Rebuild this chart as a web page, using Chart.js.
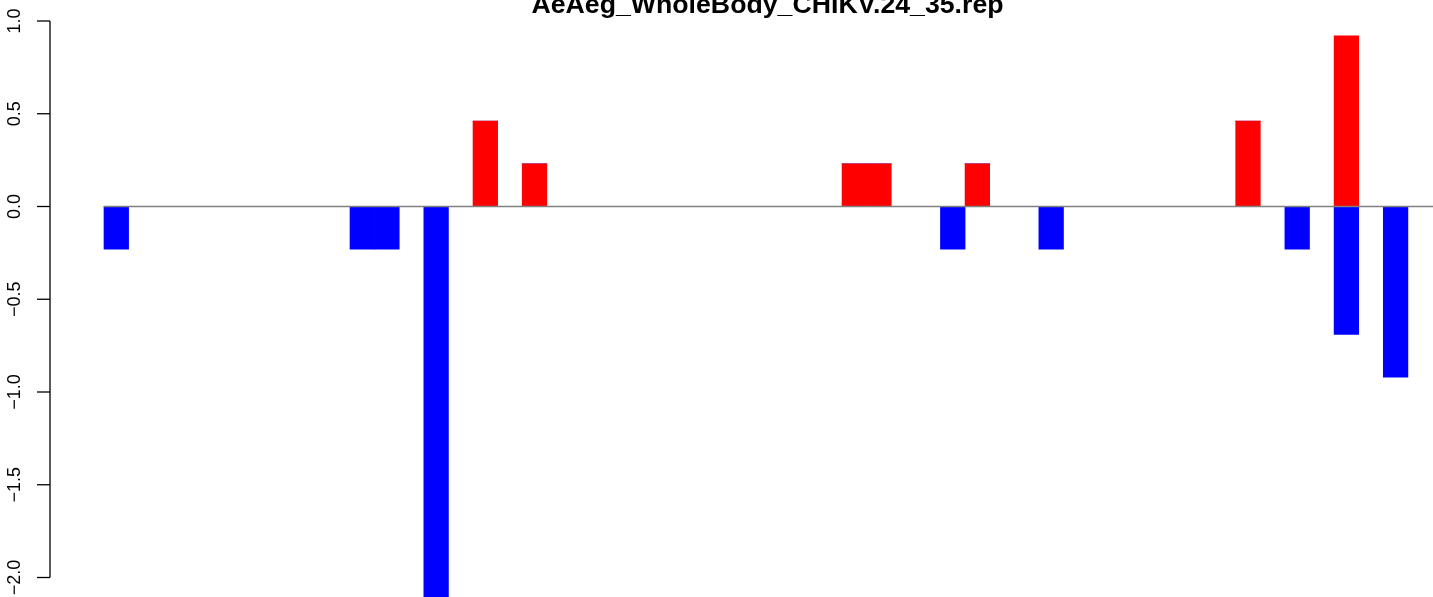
<!DOCTYPE html>
<html><head><meta charset="utf-8">
<script src="https://cdn.jsdelivr.net/npm/chart.js@4/dist/chart.umd.min.js"></script>
<style>html,body{margin:0;padding:0;background:#fff;overflow:hidden}canvas{display:block}</style>
</head><body>
<canvas id="c" width="1433" height="597"></canvas>
<script>
const chartTitle = "AeAeg_WholeBody_CHIKV.24_35.rep";
const categories = [
  0,1,2,3,4,5,6,7,8,9,
  10,11,12,13,14,15,16,17,18,19,
  20,21,22,23,24,25,26,27,28,29,
  30,31,32,33,34,35,36,37,38,39,
  40,41,42,43,44,45,46,47,48,49,
  50,51,52,53
];
const upValues = [
  0,0,0,0,0,0,0,0,0,0,
  0,0,0,0,0,0.46,0,0.23,0,0,
  0,0,0,0,0,0,0,0,0,0,
  0.23,0.23,0,0,0,0.23,0,0,0,0,
  0,0,0,0,0,0,0.46,0,0,0,
  0.92,0,0,0
];
const downValues = [
  -0.23,0,0,0,0,0,0,0,0,0,
  -0.23,-0.23,0,-2.3,0,0,0,0,0,0,
  0,0,0,0,0,0,0,0,0,0,
  0,0,0,0,-0.23,0,0,0,-0.23,0,
  0,0,0,0,0,0,0,0,-0.23,0,
  -0.69,0,-0.92,0
];
const yTickValues = [-2.0,-1.5,-1.0,-0.5,0.0,0.5,1.0];
const yTickLabels = ["\u22122.0","\u22121.5","\u22121.0","\u22120.5","0.0","0.5","1.0"];

const FONT = '"Liberation Sans", Arial, Helvetica, sans-serif';

const axisPlugin = {
  id: 'rAxis',
  afterDatasetsDraw(chart) {
    const ctx = chart.ctx;
    const y = chart.scales.y, x = chart.scales.x;
    const ca = chart.chartArea;
    ctx.save();
    const y0 = y.getPixelForValue(0);
    ctx.strokeStyle = '#808080';
    ctx.lineWidth = 1.3;
    ctx.beginPath();
    ctx.moveTo(x.getPixelForValue(categories[0] - 0.5), y0);
    ctx.lineTo(ca.right, y0);
    ctx.stroke();
    const ax = ca.left;
    ctx.strokeStyle = '#000';
    ctx.lineWidth = 1.3;
    ctx.beginPath();
    ctx.moveTo(ax, y.getPixelForValue(yTickValues[yTickValues.length-1]));
    ctx.lineTo(ax, y.getPixelForValue(yTickValues[0]));
    ctx.stroke();
    ctx.fillStyle = '#000';
    ctx.font = '18px ' + FONT;
    ctx.textAlign = 'center';
    ctx.textBaseline = 'alphabetic';
    yTickValues.forEach((v, i) => {
      const py = y.getPixelForValue(v);
      ctx.beginPath();
      ctx.moveTo(ax - 13, py);
      ctx.lineTo(ax, py);
      ctx.stroke();
      ctx.save();
      ctx.translate(19.5, py);
      ctx.rotate(-Math.PI / 2);
      ctx.fillText(yTickLabels[i], 0, 0);
      ctx.restore();
    });
    ctx.font = 'bold 26.7px ' + FONT;
    ctx.textAlign = 'center';
    ctx.fillText(chartTitle, 767.5, 12.5);
    ctx.restore();
  }
};

new Chart(document.getElementById('c'), {
  type: 'bar',
  data: {
    datasets: [
      { label: 'up', data: categories.map((c, i) => ({x: c, y: upValues[i]})), backgroundColor: '#ff0000', borderWidth: 0 },
      { label: 'down', data: categories.map((c, i) => ({x: c, y: downValues[i]})), backgroundColor: '#0000ff', borderWidth: 0 }
    ]
  },
  options: {
    responsive: false,
    animation: false,
    devicePixelRatio: 1,
    layout: { padding: { left: 50, right: 0, top: 0, bottom: 0 } },
    datasets: { bar: { categoryPercentage: 1.0, barPercentage: 1.0 } },
    plugins: { legend: { display: false }, tooltip: { enabled: false }, title: { display: false } },
    scales: {
      x: { type: 'linear', display: false, stacked: true, offset: false, min: -2.695, max: 53.52 },
      y: { type: 'linear', display: false, stacked: true, min: -2.1051, max: 1.1132 }
    }
  },
  plugins: [axisPlugin]
});
</script>
</body></html>
